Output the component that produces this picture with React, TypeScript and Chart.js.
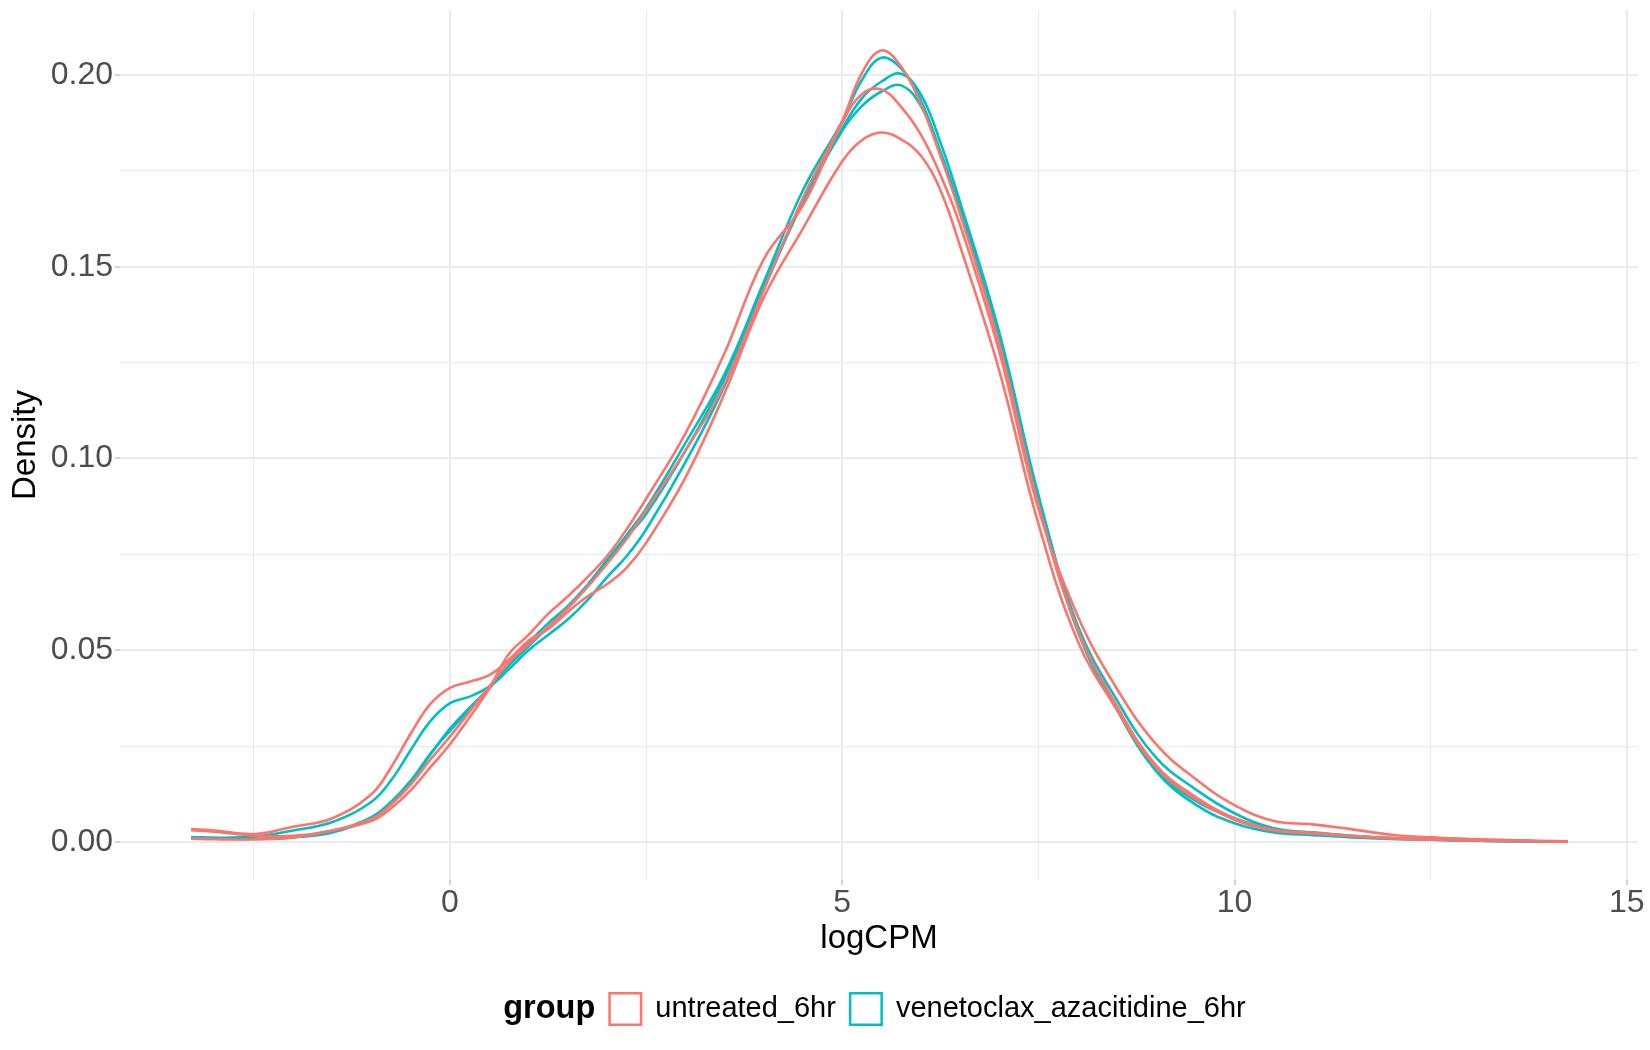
import React, { useEffect, useRef } from 'react'
import { Chart, registerables } from 'chart.js'

Chart.register(...registerables)

// logCPM grid the density curves were read at
const xs = [
  -3.3, -3, -2.5, -2, -1.5, -1, -0.75, -0.5, -0.25, 0, 0.25, 0.5, 0.75, 1, 1.25, 1.5, 1.75, 2, 2.25, 2.5,
  3, 3.5, 4, 4.5, 5, 5.25, 5.5, 5.75, 6, 6.25, 6.5, 7, 7.5, 8, 8.5, 9, 9.5, 10, 10.5, 11, 11.5, 12, 12.5,
  13, 13.5, 14.25,
]

// untreated_6hr samples
const untreated1 = [
  0.0031, 0.0027, 0.0017, 0.0016, 0.003, 0.006, 0.0098, 0.015, 0.0215, 0.0275, 0.034, 0.0405, 0.0468, 0.0515,
  0.056, 0.061, 0.0665, 0.0725, 0.079, 0.0865, 0.102, 0.1195, 0.144, 0.168, 0.188, 0.2005, 0.2064, 0.2022,
  0.1925, 0.179, 0.164, 0.13, 0.088, 0.0555, 0.0355, 0.02, 0.0118, 0.0062, 0.0032, 0.0024, 0.0016, 0.001,
  0.0007, 0.0005, 0.0003, 0.0001,
]
const untreated2 = [
  0.0009, 0.0007, 0.0007, 0.0012, 0.003, 0.0055, 0.0088, 0.0135, 0.0195, 0.0255, 0.0325, 0.04, 0.049, 0.054,
  0.0595, 0.064, 0.069, 0.0745, 0.0815, 0.0895, 0.1065, 0.1275, 0.152, 0.166, 0.1875, 0.195, 0.1962, 0.1917,
  0.1845, 0.174, 0.161, 0.128, 0.087, 0.059, 0.04, 0.0255, 0.0165, 0.0096, 0.0055, 0.0046, 0.0033, 0.0019,
  0.0012, 0.0008, 0.0005, 0.0002,
]
const untreated3 = [
  0.0034, 0.003, 0.0021, 0.004, 0.0062, 0.0125, 0.0195, 0.0283, 0.036, 0.0402, 0.0418, 0.0435, 0.0475, 0.0525,
  0.0555, 0.06, 0.064, 0.0672, 0.0715, 0.078, 0.095, 0.117, 0.142, 0.16, 0.1775, 0.183, 0.185, 0.1832, 0.179,
  0.17, 0.1555, 0.123, 0.083, 0.0525, 0.0345, 0.0195, 0.0112, 0.0058, 0.003, 0.0022, 0.0015, 0.001, 0.0007,
  0.0005, 0.0003, 0.0001,
]

// venetoclax_azacitidine_6hr samples
const treated1 = [
  0.0012, 0.001, 0.0008, 0.0013, 0.0027, 0.0065, 0.0105, 0.016, 0.023, 0.029, 0.0345, 0.04, 0.0465, 0.052,
  0.057, 0.0615, 0.067, 0.0735, 0.08, 0.087, 0.104, 0.122, 0.146, 0.17, 0.188, 0.1987, 0.2045, 0.2017, 0.1935,
  0.18, 0.165, 0.1315, 0.089, 0.055, 0.0345, 0.0185, 0.0098, 0.0049, 0.0025, 0.0018, 0.0012, 0.0008, 0.0006,
  0.0004, 0.0002, 0.0001,
]
const treated2 = [
  0.001, 0.0009, 0.0008, 0.0012, 0.0025, 0.0062, 0.01, 0.0155, 0.0228, 0.0296, 0.035, 0.0402, 0.046, 0.051,
  0.056, 0.061, 0.0665, 0.0728, 0.0795, 0.0855, 0.102, 0.121, 0.145, 0.167, 0.186, 0.1939, 0.1983, 0.2003,
  0.195, 0.1825, 0.167, 0.133, 0.0905, 0.056, 0.035, 0.019, 0.0108, 0.0062, 0.0032, 0.0022, 0.0014, 0.0009,
  0.0006, 0.0004, 0.0002, 0.0001,
]
const treated3 = [
  0.0013, 0.0011, 0.0014, 0.003, 0.0052, 0.0105, 0.0161, 0.024, 0.0315, 0.0362, 0.0379, 0.0405, 0.045, 0.05,
  0.054, 0.058, 0.063, 0.069, 0.0745, 0.0815, 0.099, 0.119, 0.144, 0.167, 0.1855, 0.1919, 0.1957, 0.1973,
  0.192, 0.18, 0.165, 0.132, 0.09, 0.0565, 0.037, 0.022, 0.0138, 0.0075, 0.0036, 0.0025, 0.0016, 0.001,
  0.0007, 0.0004, 0.0003, 0.0001,
]

const groups = ['untreated_6hr', 'venetoclax_azacitidine_6hr']
const groupColors = ['#F8766D', '#00BFC4']
const samples = [
  { group: 0, values: untreated1 },
  { group: 0, values: untreated2 },
  { group: 0, values: untreated3 },
  { group: 1, values: treated1 },
  { group: 1, values: treated2 },
  { group: 1, values: treated3 },
]

const xLabelTicks = [0, 5, 10, 15]
const yLabelTicks = [0, 0.05, 0.1, 0.15, 0.2]

const FONT = '"Liberation Sans", Arial, Helvetica, sans-serif'

const isLabelled = (v: number, list: number[]) => list.some((t) => Math.abs(t - v) < 1e-9)

const legendPlugin = {
  id: 'groupLegend',
  afterDraw(chart: any) {
    const { ctx, chartArea } = chart
    const box = 34
    const gap = 13
    const titleFont = `bold 32.5px ${FONT}`
    const labelFont = `29px ${FONT}`
    ctx.save()
    ctx.font = titleFont
    const titleW = ctx.measureText('group').width
    ctx.font = labelFont
    const labelWs = groups.map((g) => ctx.measureText(g).width)
    const total =
      titleW + groups.length * (2 * gap + box) + labelWs.reduce((a, b) => a + b, 0) + (groups.length - 1) * gap
    let x = (chartArea.left + chartArea.right) / 2 - total / 2 + 2
    const cy = chart.height - 41
    ctx.textBaseline = 'middle'
    ctx.textAlign = 'left'
    ctx.fillStyle = '#000000'
    ctx.font = titleFont
    ctx.fillText('group', x, cy)
    x += titleW + gap
    groups.forEach((g, i) => {
      ctx.strokeStyle = groupColors[i]
      ctx.lineWidth = 2.5
      ctx.strokeRect(x + 1.25, cy - box / 2 + 1.25, box - 2.5, box - 2.5)
      x += box + gap
      ctx.font = labelFont
      ctx.fillStyle = '#000000'
      ctx.fillText(g, x, cy)
      x += labelWs[i] + gap
    })
    ctx.restore()
  },
}

const DensityChart = () => {
  const canvasRef = useRef<HTMLCanvasElement>(null)

  useEffect(() => {
    if (!canvasRef.current) return
    const ctx = canvasRef.current.getContext('2d')
    if (!ctx) return

    const chart = new Chart(ctx, {
      type: 'line',
      data: {
        datasets: samples.map((s, i) => ({
          label: groups[s.group] + ' ' + (i + 1),
          data: xs.map((x, j) => ({ x, y: s.values[j] })),
          borderColor: groupColors[s.group],
          borderWidth: 2.6,
          pointRadius: 0,
          fill: false,
          tension: 0.4,
        })),
      },
      options: {
        animation: false,
        responsive: true,
        maintainAspectRatio: false,
        events: [],
        layout: { padding: { left: 0, right: 12, top: 10, bottom: 85 } },
        plugins: {
          legend: { display: false },
          tooltip: { enabled: false },
        },
        scales: {
          x: {
            type: 'linear',
            min: -4.2065,
            max: 15.1434,
            border: { display: false },
            grid: {
              color: '#EBEBEB',
              lineWidth: (c: any) => (c.tick && isLabelled(c.tick.value, xLabelTicks) ? 2 : 1.2),
              tickColor: (c: any) => (c.tick && isLabelled(c.tick.value, xLabelTicks) ? '#C4C4C4' : 'rgba(0,0,0,0)'),
              tickLength: 5,
              tickWidth: 1.5,
            },
            ticks: {
              stepSize: 2.5,
              includeBounds: false,
              autoSkip: false,
              maxRotation: 0,
              padding: 2,
              color: '#4D4D4D',
              font: { family: FONT, size: 32, lineHeight: 1 },
              callback: (v: any) => (isLabelled(Number(v), xLabelTicks) ? String(v) : ''),
            },
            title: {
              display: true,
              text: 'logCPM',
              color: '#000000',
              font: { family: FONT, size: 33, lineHeight: 1.2 },
              padding: { top: 0, bottom: 6 },
            },
            afterFit: (scale: any) => {
              scale.height = 85
              scale.paddingLeft = 0
              scale.paddingRight = 0
            },
          },
          y: {
            type: 'linear',
            min: -0.00991,
            max: 0.21695,
            border: { display: false },
            grid: {
              color: '#EBEBEB',
              lineWidth: (c: any) => (c.tick && isLabelled(c.tick.value, yLabelTicks) ? 2 : 1.2),
              tickColor: (c: any) => (c.tick && isLabelled(c.tick.value, yLabelTicks) ? '#C4C4C4' : 'rgba(0,0,0,0)'),
              tickLength: 5,
              tickWidth: 1.5,
            },
            ticks: {
              stepSize: 0.025,
              includeBounds: false,
              autoSkip: false,
              padding: 2,
              color: '#4D4D4D',
              font: { family: FONT, size: 32, lineHeight: 1 },
              callback: (v: any) => (isLabelled(Number(v), yLabelTicks) ? Number(v).toFixed(2) : ''),
            },
            title: {
              display: true,
              text: 'Density',
              color: '#000000',
              font: { family: FONT, size: 33, lineHeight: 1.2 },
              padding: { top: 6, bottom: 0 },
            },
            afterFit: (scale: any) => {
              scale.width = 120
              scale.paddingTop = 0
              scale.paddingBottom = 0
            },
          },
        },
      },
      plugins: [legendPlugin],
    } as any)

    return () => chart.destroy()
  }, [])

  return <canvas ref={canvasRef} />
}

export default function App() {
  return (
    <div style={{ position: 'fixed', left: 0, top: 0, width: 1650, height: 1050, background: '#FFFFFF' }}>
      <DensityChart />
    </div>
  )
}
